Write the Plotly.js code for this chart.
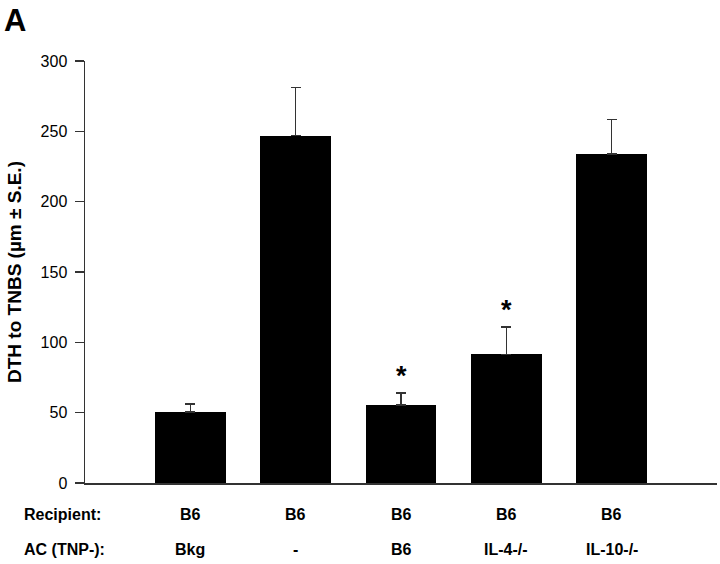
<!DOCTYPE html>
<html>
<head>
<meta charset="utf-8">
<script src="https://cdn.plot.ly/plotly-3.0.1.min.js"></script>
<style>html,body{margin:0;padding:0;background:#fff}#chart{width:720px;height:564px}</style>
</head>
<body>
<div id="chart"></div>
<script>
// Data
const groups = [0, 1, 2, 3, 4];
const recipient = ["B6", "B6", "B6", "B6", "B6"];
const acTnp = ["Bkg", "-", "B6", "IL-4-/-", "IL-10-/-"];
const dth = [50.5, 247, 55.5, 91.5, 234];
const se = [5.5, 34, 8.5, 19.5, 24.5];
const significant = [false, false, true, true, false];
const yTicks = [0, 50, 100, 150, 200, 250, 300];

const FONT = "Liberation Sans, Arial, sans-serif";

const trace = {
  type: "bar",
  x: groups,
  y: dth,
  width: 0.67,
  marker: {color: "#000000", line: {width: 0}},
  error_y: {type: "data", symmetric: false, array: se, arrayminus: se.map(() => 0),
            color: "#333333", thickness: 1.5, width: 5},
  hoverinfo: "skip"
};

const annotations = [];
groups.forEach((g, i) => {
  if (significant[i]) {
    annotations.push({x: g, y: dth[i] + se[i], xref: "x", yref: "y", text: "<b>*</b>",
      showarrow: false, yanchor: "bottom", yshift: 0,
      font: {family: FONT, size: 27, color: "#000"}});
  }
  annotations.push({x: g, y: -0.074, xref: "x", yref: "paper", text: "<b>" + recipient[i] + "</b>",
    showarrow: false, yanchor: "middle", font: {family: FONT, size: 16, color: "#000"}});
  annotations.push({x: g, y: -0.157, xref: "x", yref: "paper", text: "<b>" + acTnp[i] + "</b>",
    showarrow: false, yanchor: "middle", font: {family: FONT, size: 16, color: "#000"}});
});
annotations.push({x: -0.099, y: -0.074, xref: "paper", yref: "paper", text: "<b>Recipient:</b>",
  showarrow: false, xanchor: "left", yanchor: "middle", font: {family: FONT, size: 16, color: "#000"}});
annotations.push({x: -0.099, y: -0.157, xref: "paper", yref: "paper", text: "<b>AC (TNP-):</b>",
  showarrow: false, xanchor: "left", yanchor: "middle", font: {family: FONT, size: 16, color: "#000"}});
annotations.push({x: (2 - 85) / 632, y: 1 + (61 - 1) / 422, xref: "paper", yref: "paper", text: "<b>A</b>",
  showarrow: false, xanchor: "left", yanchor: "top", font: {family: FONT, size: 31, color: "#000"}});

const layout = {
  width: 720, height: 564,
  margin: {l: 85, r: 3, t: 61, b: 81, pad: 0},
  paper_bgcolor: "#fff", plot_bgcolor: "#fff",
  showlegend: false,
  bargap: 0,
  xaxis: {range: [-1, 5], showline: true, linecolor: "#333", linewidth: 1.5,
          showgrid: false, zeroline: false, showticklabels: false, ticks: "", fixedrange: true},
  yaxis: {range: [0, 300], tickvals: yTicks, ticktext: yTicks.map(String),
          showline: true, linecolor: "#333", linewidth: 1.5, ticks: "outside", ticklen: 9,
          tickwidth: 1.2, tickcolor: "#333", showgrid: false, zeroline: false,
          ticklabelstandoff: 4,
          tickfont: {family: FONT, size: 16, color: "#000"},
          title: {text: "<b>DTH to TNBS (µm ± S.E.)</b>", standoff: 14,
                  font: {family: FONT, size: 19, color: "#000"}}},
  annotations: annotations
};

Plotly.newPlot("chart", [trace], layout, {staticPlot: true, displayModeBar: false});
</script>
</body>
</html>
